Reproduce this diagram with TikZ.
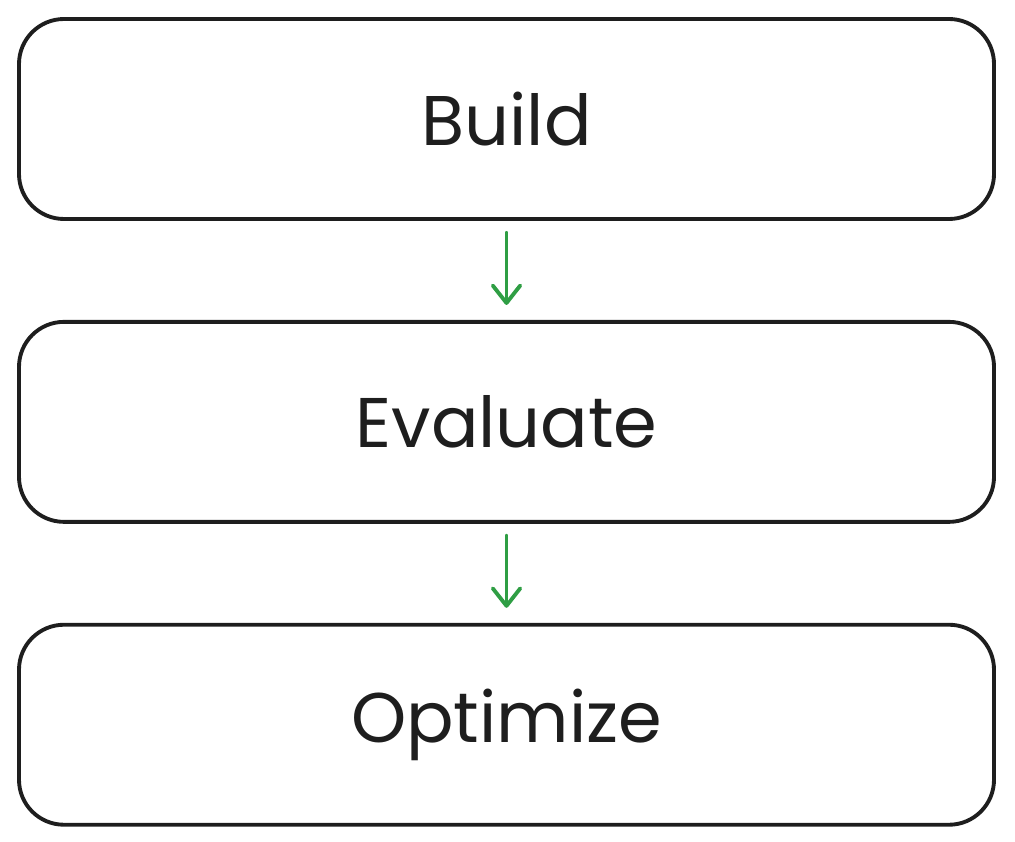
\documentclass[tikz,border=0pt]{standalone}
\usepackage{fontspec}
\setmainfont{Poppins}
\usepackage{xcolor}
\usetikzlibrary{positioning,arrows.meta}

\definecolor{inkblack}{HTML}{1E1E1E}
\definecolor{arrowgreen}{HTML}{2F9E44}

\tikzset{
    stagebox/.style={draw=inkblack, line width=2.2pt, rounded corners=0.9cm,
        minimum width=19.5cm, minimum height=4cm, text=inkblack,
        font=\fontsize{40}{48}\selectfont},
    flowarrow/.style={draw=arrowgreen, line width=2.2pt, line cap=round,
        -{Straight Barb[length=0.35cm, width=0.55cm, line cap=round, round]},
        shorten <=0.24cm, shorten >=0.3cm}
}

\begin{document}
\begin{tikzpicture}
    % Fix the page size
    \useasboundingbox (0,0) rectangle (20.3,16.82);

    % Draw the three boxes
    \node[stagebox] (build) at (10.13,14.44) {Build};
    \node[stagebox, below=1.98cm of build] (evaluate) {Evaluate};
    \node[stagebox, below=1.98cm of evaluate] (optimize) {Optimize};

    % Draw the arrows between the boxes
    \draw[flowarrow] (build) -- (evaluate);
    \draw[flowarrow] (evaluate) -- (optimize);
\end{tikzpicture}
\end{document}
